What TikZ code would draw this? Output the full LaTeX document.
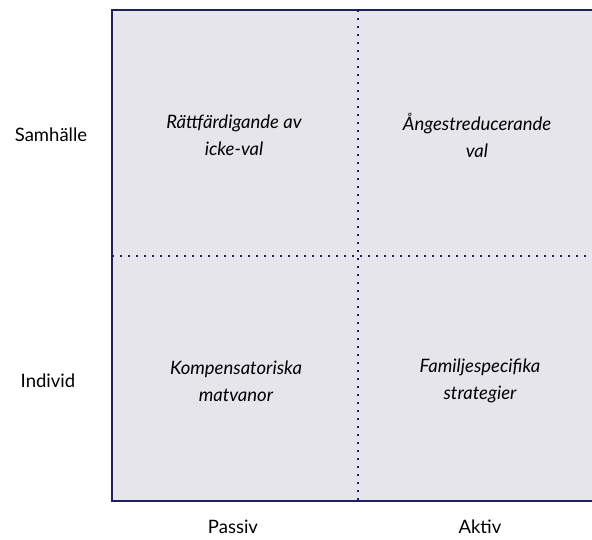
\documentclass[tikz,border=0pt]{standalone}
\usepackage{fontspec}
\setmainfont{Lato}
\definecolor{boxfill}{HTML}{E6E5EC}
\definecolor{boxline}{HTML}{1F1F5C}
\begin{document}
\begin{tikzpicture}[x=1pt,y=-1pt,
  axislabel/.style={font=\fontsize{18.5}{22}\selectfont, text=black},
  cell/.style={font=\fontsize{18.5}{27}\selectfont\itshape, align=center, text=black},
  divider/.style={boxline, line width=1.3pt, dash pattern=on 2pt off 6pt}]
\useasboundingbox (0,0) rectangle (592,539);
\fill[boxfill] (112,10) rectangle (592,501);
\draw[boxline, line width=1.4pt] (592,10) -- (112,10) -- (112,501) -- (592,501);
\coordinate (vt) at (358,10);
\coordinate (vb) at (358,501);
\coordinate (hl) at (112,256);
\coordinate (hr) at (592,256);
\draw[divider] (vt) -- (vb);
\draw[divider] (hl) -- (hr);
\node[axislabel] (samh) at (51,135) {Samhälle};
\node[axislabel] (indiv) at (48,381) {Individ};
\node[axislabel] (passiv) at (233,527) {Passiv};
\node[axislabel] (aktiv) at (480,527) {Aktiv};
\node[cell] (c1) at (234,135) {Rättfärdigande av\\icke-val};
\node[cell] (c2) at (477,135) {Ångestreducerande\\val};
\node[cell] (c3) at (236,381) {Kompensatoriska\\matvanor};
\node[cell] (c4) at (480,381) {Familjespecifika\\strategier};
\end{tikzpicture}
\end{document}
